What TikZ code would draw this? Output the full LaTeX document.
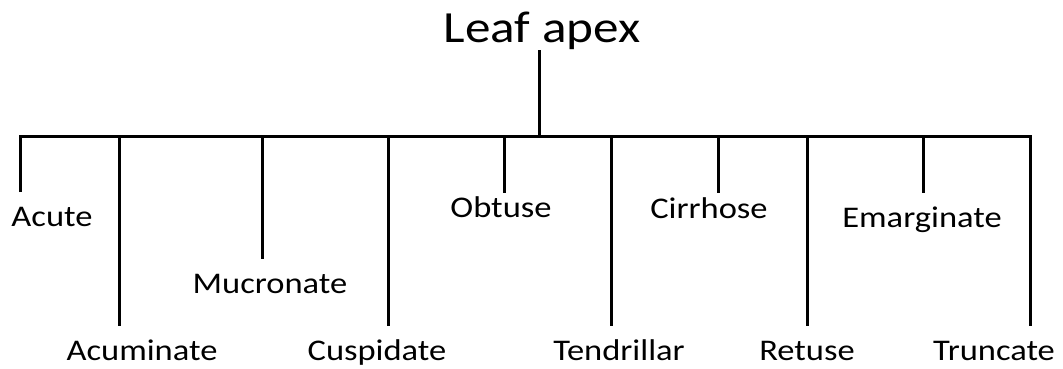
\documentclass[tikz,border=0pt]{standalone}
\usepackage{fontspec}
\setmainfont[FakeStretch=1.15]{Carlito}
\begin{document}
\begin{tikzpicture}[x=1pt,y=-1pt,
  lbl/.style={anchor=base,inner sep=0pt,font=\fontsize{30}{35}\selectfont},
  ttl/.style={anchor=base,inner sep=0pt,font=\fontsize{44.5}{50}\selectfont},
  br/.style={line width=3pt,black}]
\useasboundingbox (0,0) rectangle (1063,368);
% title
\node[ttl] (title) at (542,42) {Leaf apex};
\coordinate (top) at (539,50);
\coordinate (hub) at (539,136);
% branch ends
\coordinate (eAcute) at (20.7,192);
\coordinate (eAcum) at (119,326);
\coordinate (eMucr) at (262,259);
\coordinate (eCusp) at (388,326);
\coordinate (eObt) at (504,193);
\coordinate (eTend) at (611,326);
\coordinate (eCirr) at (718,193);
\coordinate (eRet) at (807,326);
\coordinate (eEmar) at (923,193);
\coordinate (eTrunc) at (1030,326);
% labels
\node[lbl] (Acute) at (52,226) {Acute};
\node[lbl] (Acuminate) at (142,360) {Acuminate};
\node[lbl] (Mucronate) at (270,293) {Mucronate};
\node[lbl] (Cuspidate) at (377,360) {Cuspidate};
\node[lbl] (Obtuse) at (501,217) {Obtuse};
\node[lbl] (Tendrillar) at (619,360) {Tendrillar};
\node[lbl] (Cirrhose) at (709,218) {Cirrhose};
\node[lbl] (Retuse) at (807,360) {Retuse};
\node[lbl] (Emarginate) at (922,227) {Emarginate};
\node[lbl] (Truncate) at (994,360) {Truncate};
% connectors
\draw[br] (top) -- (hub);
\draw[br] (eAcute) |- (hub) -| (eTrunc);
\foreach \e in {eAcum,eMucr,eCusp,eObt,eTend,eCirr,eRet,eEmar}
  \draw[br] (\e |- hub) -- (\e);
\end{tikzpicture}
\end{document}
